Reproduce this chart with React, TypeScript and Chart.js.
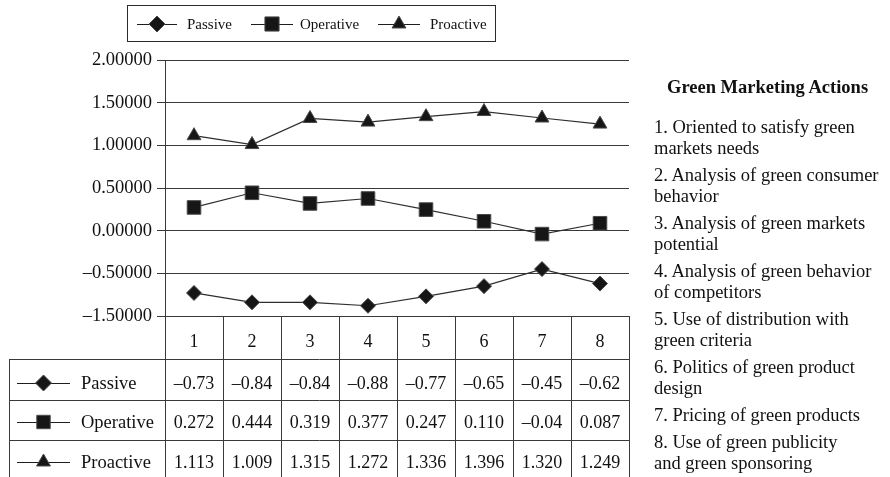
import React, { useEffect, useRef } from "react";
import { Chart, registerables } from "chart.js";

Chart.register(...registerables);

const categories = ["1", "2", "3", "4", "5", "6", "7", "8"];
const seriesNames = ["Passive", "Operative", "Proactive"];
const passive = [-0.73, -0.84, -0.84, -0.88, -0.77, -0.65, -0.45, -0.62];
const operative = [0.272, 0.444, 0.319, 0.377, 0.247, 0.11, -0.04, 0.087];
const proactive = [1.113, 1.009, 1.315, 1.272, 1.336, 1.396, 1.32, 1.249];
const passiveText = ["–0.73", "–0.84", "–0.84", "–0.88", "–0.77", "–0.65", "–0.45", "–0.62"];
const operativeText = ["0.272", "0.444", "0.319", "0.377", "0.247", "0.110", "–0.04", "0.087"];
const proactiveText = ["1.113", "1.009", "1.315", "1.272", "1.336", "1.396", "1.320", "1.249"];
const yTickValues = [-1, -0.5, 0, 0.5, 1, 1.5, 2];
const yTickLabels = ["–1.50000", "–0.50000", "0.00000", "0.50000", "1.00000", "1.50000", "2.00000"];
const actionsTitle = "Green Marketing Actions";
const actions = [
  ["1. Oriented to satisfy green", "markets needs"],
  ["2. Analysis of green consumer", "behavior"],
  ["3. Analysis of green markets", "potential"],
  ["4. Analysis of green behavior", "of competitors"],
  ["5. Use of distribution with", "green criteria"],
  ["6. Politics of green product", "design"],
  ["7. Pricing of green products"],
  ["8. Use of green publicity", "and green sponsoring"],
];

const W = 890;
const H = 477;
const FONT = "'Liberation Serif', 'Times New Roman', serif";
const LINE = "#3a3a3a";
const TEXT = "#111";
const MARK_FILL = "#161616";
const MARK_EDGE = "#4a4a4a";
const styles = ["rectRot", "rect", "triangle"];
const radii = [7.5, 9.6, 8];

function drawMarker(ctx: CanvasRenderingContext2D, style: string, x: number, y: number, r: number) {
  ctx.beginPath();
  if (style === "rectRot") {
    ctx.moveTo(x, y - r);
    ctx.lineTo(x + r, y);
    ctx.lineTo(x, y + r);
    ctx.lineTo(x - r, y);
  } else if (style === "rect") {
    const s = r * Math.SQRT1_2;
    ctx.rect(x - s, y - s, 2 * s, 2 * s);
  } else {
    ctx.moveTo(x, y - r);
    ctx.lineTo(x + r * Math.sin((2 * Math.PI) / 3), y - r * Math.cos((2 * Math.PI) / 3));
    ctx.lineTo(x + r * Math.sin((4 * Math.PI) / 3), y - r * Math.cos((4 * Math.PI) / 3));
  }
  ctx.closePath();
  ctx.fillStyle = MARK_FILL;
  ctx.fill();
  ctx.strokeStyle = MARK_EDGE;
  ctx.lineWidth = 1;
  ctx.stroke();
}

function legendSymbol(ctx: CanvasRenderingContext2D, style: string, x1: number, x2: number, y: number, r: number) {
  ctx.beginPath();
  ctx.moveTo(x1, y + 0.5);
  ctx.lineTo(x2, y + 0.5);
  ctx.strokeStyle = "#1e1e1e";
  ctx.lineWidth = 1.2;
  ctx.stroke();
  drawMarker(ctx, style, (x1 + x2) / 2, y, r);
}

const tablePlugin = {
  id: "tablePlugin",
  afterDraw(chart: any) {
    const ctx: CanvasRenderingContext2D = chart.ctx;
    const { left, right, bottom } = chart.chartArea;
    const xs = chart.scales.x;
    const n = categories.length;
    const colW = (right - left) / n;
    const tableLeft = 9;
    const rowLines = [359, 400, 440];
    const rowCenters = [383, 422, 462];
    const headerCenter = 341;
    ctx.save();
    ctx.strokeStyle = LINE;
    ctx.lineWidth = 1;
    for (let i = 0; i <= n; i++) {
      const xb = Math.round(left + i * colW) + 0.5;
      ctx.beginPath();
      ctx.moveTo(xb, bottom);
      ctx.lineTo(xb, H);
      ctx.stroke();
    }
    ctx.beginPath();
    ctx.moveTo(tableLeft + 0.5, rowLines[0]);
    ctx.lineTo(tableLeft + 0.5, H);
    ctx.stroke();
    rowLines.forEach((y) => {
      ctx.beginPath();
      ctx.moveTo(tableLeft, y + 0.5);
      ctx.lineTo(Math.round(right) + 1, y + 0.5);
      ctx.stroke();
    });
    ctx.fillStyle = TEXT;
    ctx.textAlign = "center";
    ctx.textBaseline = "alphabetic";
    ctx.font = `18px ${FONT}`;
    categories.forEach((c, i) => {
      ctx.fillText(c, xs.getPixelForValue(i), headerCenter + 6);
    });
    const texts = [passiveText, operativeText, proactiveText];
    texts.forEach((row, r) => {
      row.forEach((t, i) => {
        ctx.fillText(t, xs.getPixelForValue(i), rowCenters[r] + 6, colW - 12);
      });
    });
    ctx.textAlign = "left";
    seriesNames.forEach((name, r) => {
      legendSymbol(ctx, styles[r], 17, 70, rowCenters[r], r === 1 ? 9.5 : 8);
      ctx.fillStyle = TEXT;
      ctx.font = `18.5px ${FONT}`;
      ctx.fillText(name, 81, rowCenters[r] + 6);
    });
    ctx.strokeStyle = "#2a2a2a";
    ctx.lineWidth = 1;
    ctx.strokeRect(127.5, 5.5, 368, 36);
    const lx = [
      [137, 177, 187],
      [251, 293, 300],
      [378, 420, 430],
    ];
    seriesNames.forEach((name, r) => {
      legendSymbol(ctx, styles[r], lx[r][0], lx[r][1], 24, r === 1 ? 10 : 8);
      ctx.fillStyle = TEXT;
      ctx.font = `15px ${FONT}`;
      ctx.fillText(name, lx[r][2], 29);
    });
    ctx.restore();
  },
};

export default function App() {
  const ref = useRef<HTMLCanvasElement | null>(null);
  useEffect(() => {
    document.body.style.margin = "0";
    if (!ref.current) return;
    const mk = (label: string, data: number[], i: number) => ({
      label,
      data,
      pointStyle: styles[i],
      pointRadius: radii[i],
      pointHoverRadius: radii[i],
      pointBackgroundColor: MARK_FILL,
      pointBorderColor: MARK_EDGE,
      pointBorderWidth: 1,
      borderColor: "#2e2e2e",
      borderWidth: 1.2,
      tension: 0,
      fill: false,
    });
    const chart = new Chart(ref.current, {
      type: "line",
      data: {
        labels: categories,
        datasets: [
          mk(seriesNames[0], passive, 0),
          mk(seriesNames[1], operative, 1),
          mk(seriesNames[2], proactive, 2),
        ],
      },
      options: {
        responsive: false,
        animation: false,
        devicePixelRatio: 1,
        layout: { padding: { left: 0, top: 60, right: W - 629, bottom: H - 316 } },
        plugins: { legend: { display: false }, tooltip: { enabled: false } },
        scales: {
          x: { type: "category", offset: true, display: false },
          y: {
            min: -1,
            max: 2,
            afterFit: (s: any) => {
              s.width = 165;
            },
            afterBuildTicks: (s: any) => {
              s.ticks = yTickValues.map((v) => ({ value: v }));
            },
            ticks: {
              callback: (v: any) => yTickLabels[yTickValues.indexOf(Number(v))],
              font: { family: FONT, size: 18.5 },
              color: TEXT,
              padding: 5,
            },
            grid: { color: LINE, tickLength: 8, drawTicks: true, lineWidth: 1 },
            border: { display: true, color: LINE, width: 1 },
          },
        },
      } as any,
      plugins: [tablePlugin],
    });
    return () => chart.destroy();
  }, []);

  return (
    <div style={{ position: "absolute", left: 0, top: 0, width: W, height: H, background: "#fff" }}>
      <canvas ref={ref} width={W} height={H} style={{ position: "absolute", left: 0, top: 0, width: W, height: H }} />
      <div
        style={{
          position: "absolute",
          left: 667,
          top: 77,
          fontFamily: FONT,
          fontWeight: "bold",
          fontSize: "18.5px",
          lineHeight: "21px",
          color: TEXT,
          whiteSpace: "nowrap",
        }}
      >
        {actionsTitle}
      </div>
      <div
        style={{
          position: "absolute",
          left: 654,
          top: 117,
          fontFamily: FONT,
          fontSize: "18.5px",
          lineHeight: "21px",
          color: TEXT,
          whiteSpace: "nowrap",
        }}
      >
        {actions.map((lines, i) => (
          <div key={i} style={{ marginTop: i === 0 ? 0 : 6 }}>
            {lines.map((l, j) => (
              <div key={j}>{l}</div>
            ))}
          </div>
        ))}
      </div>
    </div>
  );
}
